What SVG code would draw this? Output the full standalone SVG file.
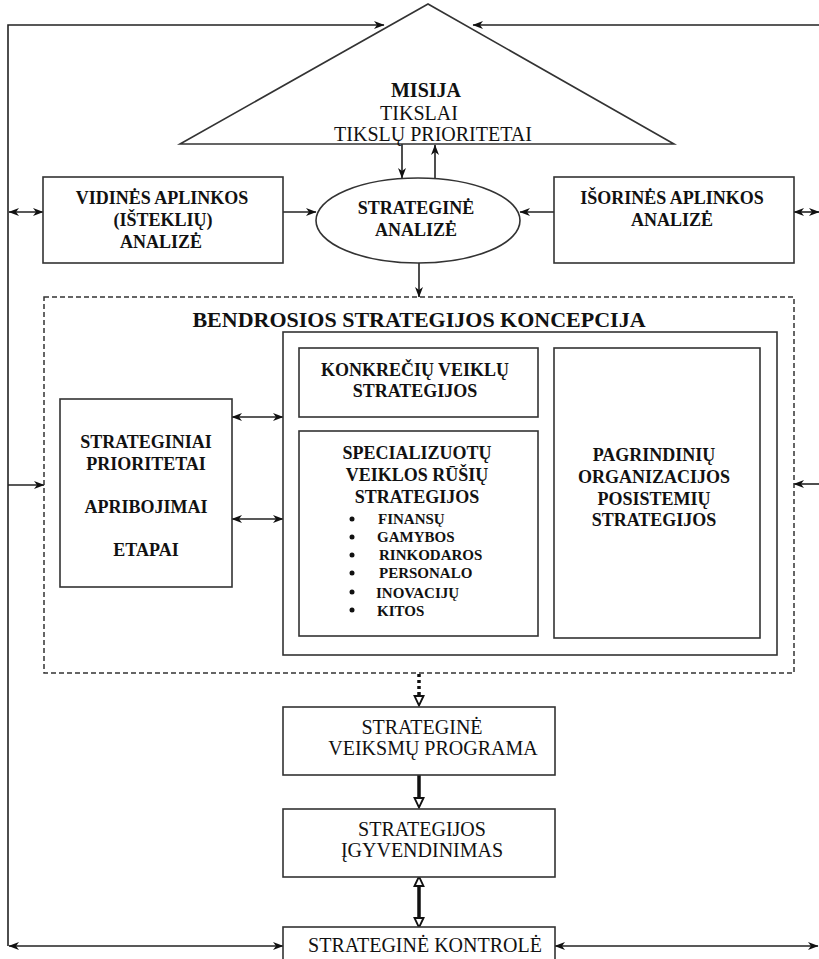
<svg xmlns="http://www.w3.org/2000/svg" width="819" height="959" viewBox="0 0 819 959">
<style>
.box{fill:#fff;stroke:#333;stroke-width:1.6}
.ln{fill:none;stroke:#222;stroke-width:1.6}
.thk{fill:none;stroke:#111;stroke-width:3.5}
.t{font-family:"Liberation Serif","Times New Roman",serif;fill:#111;text-anchor:middle}
.b{font-weight:bold;font-size:18px}
.r{font-size:20px}
.li{font-family:"Liberation Serif","Times New Roman",serif;fill:#111;font-weight:bold;font-size:15px}
</style>
<defs>
<marker id="ah" markerUnits="userSpaceOnUse" markerWidth="11" markerHeight="9" viewBox="0 0 11 9" refX="10" refY="4.5" orient="auto-start-reverse">
<path d="M0,0.5 L10.5,4.5 L0,8.5 L3,4.5 z" fill="#111"/>
</marker>
<marker id="ahh" markerUnits="userSpaceOnUse" markerWidth="12" markerHeight="12" viewBox="0 0 12 12" refX="2" refY="6" orient="auto-start-reverse">
<path d="M1,1.5 L10.5,6 L1,10.5 z" fill="#fff" stroke="#111" stroke-width="1.8"/>
</marker>
</defs>

<g id="connectors">
<path class="ln" d="M384,25 H8 V946" marker-start="url(#ah)"/>
<line class="ln" x1="819" y1="25" x2="473" y2="25" marker-end="url(#ah)"/>
<line class="ln" x1="9" y1="212" x2="43" y2="212" marker-start="url(#ah)" marker-end="url(#ah)"/>
<line class="ln" x1="794" y1="212" x2="819" y2="212" marker-start="url(#ah)" marker-end="url(#ah)"/>
<line class="ln" x1="283" y1="212" x2="316" y2="212" marker-end="url(#ah)"/>
<line class="ln" x1="554" y1="212" x2="520" y2="212" marker-end="url(#ah)"/>
<line class="ln" x1="402" y1="144" x2="402" y2="178" marker-end="url(#ah)"/>
<line class="ln" x1="435" y1="178" x2="435" y2="145" marker-end="url(#ah)"/>
<line class="ln" x1="419" y1="263" x2="419" y2="297" marker-end="url(#ah)"/>
<line class="ln" x1="8" y1="485" x2="44" y2="485" marker-end="url(#ah)"/>
<line class="ln" x1="819" y1="484" x2="794" y2="484" marker-end="url(#ah)"/>
<line class="ln" x1="232" y1="417" x2="283" y2="417" marker-start="url(#ah)" marker-end="url(#ah)"/>
<line class="ln" x1="232" y1="519" x2="283" y2="519" marker-start="url(#ah)" marker-end="url(#ah)"/>
<line class="thk" x1="419" y1="674" x2="419" y2="697" stroke-dasharray="3,3" marker-end="url(#ahh)"/>
<line class="thk" x1="419" y1="775" x2="419" y2="799" marker-end="url(#ahh)"/>
<line class="thk" x1="419" y1="885" x2="419" y2="919" marker-start="url(#ahh)" marker-end="url(#ahh)"/>
<line class="ln" x1="9" y1="946" x2="283" y2="946" marker-start="url(#ah)" marker-end="url(#ah)"/>
<line class="ln" x1="555" y1="946" x2="818" y2="946" marker-start="url(#ah)" marker-end="url(#ah)"/>
</g>

<g id="misija">
<polygon class="box" points="428,4 180,144 674,144"/>
<text class="t" x="426" y="97" font-size="20" font-weight="bold">MISIJA</text>
<text class="t r" x="419" y="120">TIKSLAI</text>
<text class="t r" x="433" y="141">TIKSLŲ PRIORITETAI</text>
</g>

<g id="vidines">
<rect class="box" x="43" y="177" width="240" height="86"/>
<text class="t b" x="162" y="204">VIDINĖS APLINKOS</text>
<text class="t b" x="163" y="226">(IŠTEKLIŲ)</text>
<text class="t b" x="161" y="248">ANALIZĖ</text>
</g>

<g id="strategine-analize">
<ellipse class="box" cx="418" cy="220.5" rx="102" ry="42.5"/>
<text class="t b" x="416" y="214">STRATEGINĖ</text>
<text class="t b" x="416" y="236">ANALIZĖ</text>
</g>

<g id="isorines">
<rect class="box" x="554" y="177" width="240" height="86"/>
<text class="t b" x="672" y="204">IŠORINĖS APLINKOS</text>
<text class="t b" x="672" y="226">ANALIZĖ</text>
</g>

<g id="koncepcija">
<rect x="44" y="297" width="750" height="376" fill="none" stroke="#333" stroke-width="1.5" stroke-dasharray="5,3"/>
<text class="t" x="419" y="327" font-size="22" font-weight="bold">BENDROSIOS STRATEGIJOS KONCEPCIJA</text>
</g>

<g id="strategijos-blokas">
<rect class="box" x="283" y="332" width="494" height="323" stroke-width="2"/>
</g>

<g id="prioritetai">
<rect class="box" x="60" y="399" width="172" height="188"/>
<text class="t b" x="146" y="448">STRATEGINIAI</text>
<text class="t b" x="146" y="470">PRIORITETAI</text>
<text class="t b" x="146" y="513">APRIBOJIMAI</text>
<text class="t b" x="146" y="556">ETAPAI</text>
</g>

<g id="konkreciu">
<rect class="box" x="299" y="348" width="239" height="69"/>
<text class="t b" x="415" y="376">KONKREČIŲ VEIKLŲ</text>
<text class="t b" x="415" y="397">STRATEGIJOS</text>
</g>

<g id="specializuotu">
<rect class="box" x="299" y="431" width="239" height="205"/>
<text class="t b" x="417" y="459">SPECIALIZUOTŲ</text>
<text class="t b" x="417" y="481">VEIKLOS RŪŠIŲ</text>
<text class="t b" x="417" y="503">STRATEGIJOS</text>
<g fill="#111">
<circle cx="352" cy="519" r="2.5"/>
<circle cx="352" cy="537" r="2.5"/>
<circle cx="352" cy="555" r="2.5"/>
<circle cx="352" cy="573" r="2.5"/>
<circle cx="352" cy="592" r="2.5"/>
<circle cx="352" cy="610" r="2.5"/>
</g>
<text class="li" x="378" y="524">FINANSŲ</text>
<text class="li" x="377" y="542">GAMYBOS</text>
<text class="li" x="379" y="560">RINKODAROS</text>
<text class="li" x="379" y="578">PERSONALO</text>
<text class="li" x="376" y="598">INOVACIJŲ</text>
<text class="li" x="377" y="616">KITOS</text>
</g>

<g id="pagrindiniu">
<rect class="box" x="554" y="348" width="206" height="290"/>
<text class="t b" x="654" y="461">PAGRINDINIŲ</text>
<text class="t b" x="654" y="483">ORGANIZACIJOS</text>
<text class="t b" x="654" y="505">POSISTEMIŲ</text>
<text class="t b" x="654" y="526">STRATEGIJOS</text>
</g>

<g id="veiksmu-programa">
<rect class="box" x="283" y="707" width="272" height="68"/>
<text class="t r" x="422" y="734">STRATEGINĖ</text>
<text class="t r" x="433" y="755">VEIKSMŲ PROGRAMA</text>
</g>

<g id="igyvendinimas">
<rect class="box" x="283" y="809" width="272" height="68"/>
<text class="t r" x="422" y="836">STRATEGIJOS</text>
<text class="t r" x="422" y="857">ĮGYVENDINIMAS</text>
</g>

<g id="kontrole">
<rect class="box" x="283" y="927" width="272" height="40"/>
<text class="t r" x="425" y="952">STRATEGINĖ KONTROLĖ</text>
</g>
</svg>
